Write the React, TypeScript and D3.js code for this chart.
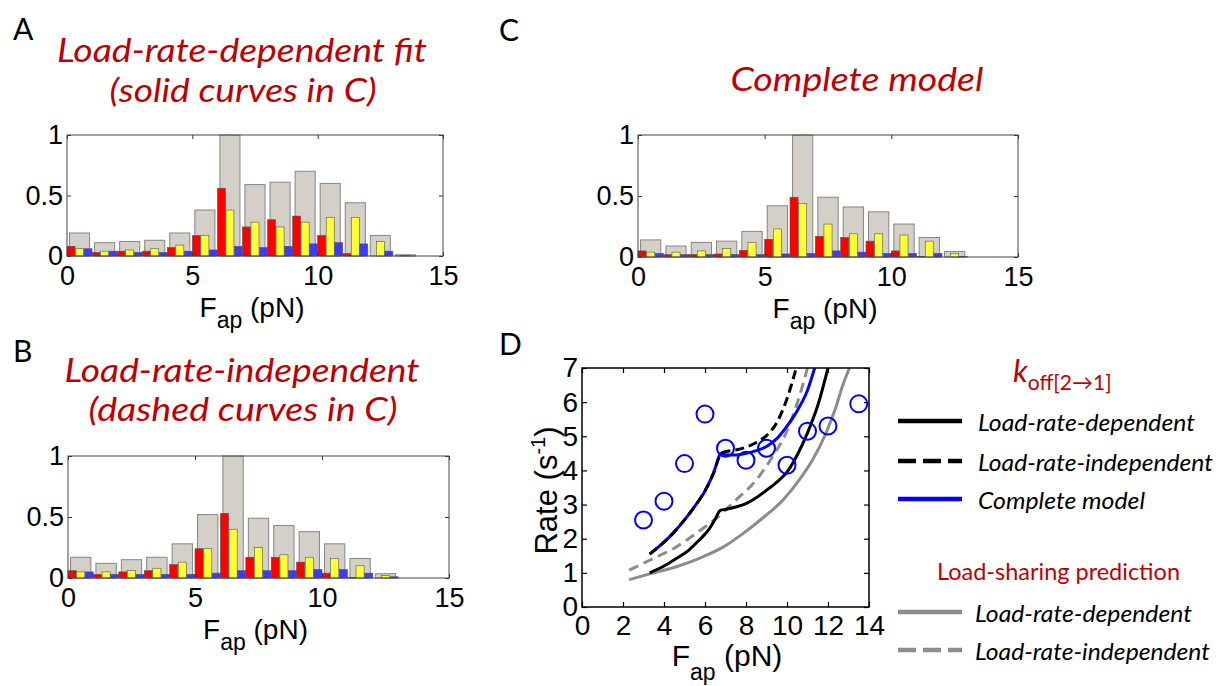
import React, { useRef, useEffect } from 'react';
import * as d3 from 'd3';

// histogram bins (pN), 1 pN wide
const binStarts = [0, 1, 2, 3, 4, 5, 6, 7, 8, 9, 10, 11, 12, 13];
const seriesNames = ['red', 'yellow', 'blue'];
const seriesColors = ['#ff0000', '#ffff33', '#3b3bff'];
const xTicksHist = [0, 5, 10, 15];
const yTicksHist = [0, 0.5, 1];

// A: load-rate-dependent fit
const grayA = [0.19, 0.11, 0.12, 0.13, 0.19, 0.38, 1.0, 0.59, 0.61, 0.70, 0.60, 0.44, 0.17, 0.01];
const redA = [0.08, 0.03, 0.04, 0.04, 0.07, 0.17, 0.56, 0.24, 0.30, 0.33, 0.17, 0.02, 0, 0];
const yellowA = [0.06, 0.04, 0.05, 0.06, 0.09, 0.17, 0.38, 0.28, 0.24, 0.28, 0.32, 0.32, 0.12, 0.005];
const blueA = [0.06, 0.04, 0.03, 0.03, 0.04, 0.05, 0.08, 0.07, 0.08, 0.10, 0.11, 0.10, 0.04, 0];

// B: load-rate-independent fit
const grayB = [0.17, 0.12, 0.15, 0.17, 0.28, 0.52, 1.0, 0.49, 0.43, 0.38, 0.28, 0.16, 0.035, 0];
const redB = [0.06, 0.03, 0.05, 0.06, 0.11, 0.24, 0.53, 0.17, 0.17, 0.13, 0.04, 0.005, 0, 0];
const yellowB = [0.05, 0.05, 0.06, 0.08, 0.13, 0.24, 0.40, 0.25, 0.19, 0.17, 0.16, 0.10, 0.02, 0];
const blueB = [0.05, 0.03, 0.03, 0.03, 0.03, 0.04, 0.06, 0.06, 0.06, 0.07, 0.07, 0.04, 0.01, 0];

// C: complete model
const grayC = [0.14, 0.09, 0.12, 0.13, 0.21, 0.42, 1.0, 0.49, 0.41, 0.37, 0.27, 0.16, 0.045, 0];
const redC = [0.05, 0.02, 0.02, 0.025, 0.055, 0.145, 0.49, 0.17, 0.16, 0.13, 0.05, 0.003, 0, 0];
const yellowC = [0.04, 0.04, 0.05, 0.07, 0.12, 0.23, 0.44, 0.27, 0.19, 0.19, 0.18, 0.13, 0.03, 0];
const blueC = [0.03, 0.02, 0.02, 0.02, 0.02, 0.025, 0.03, 0.05, 0.04, 0.03, 0.03, 0.03, 0.005, 0];

// D: rates
const xTicksD = [0, 2, 4, 6, 8, 10, 12, 14];
const yTicksD = [0, 1, 2, 3, 4, 5, 6, 7];
const forceObs = [3, 4, 5, 6, 7, 8, 9, 10, 11, 12, 13.5];
const rateObs = [2.55, 3.1, 4.2, 5.65, 4.65, 4.3, 4.65, 4.15, 5.15, 5.3, 5.95];

const depFitF = [3.3, 4.0, 4.6, 5.2, 5.7, 6.2, 6.5, 6.75, 7.0, 7.5, 8.0, 8.5, 9.0, 9.5, 10.0, 10.5, 11.0, 11.5, 12.0];
const depFitR = [1.0, 1.2, 1.42, 1.66, 1.95, 2.28, 2.58, 2.83, 2.86, 2.93, 3.03, 3.2, 3.42, 3.66, 3.95, 4.45, 5.1, 5.9, 7.0];

const indepFitF = [3.3, 4.0, 4.5, 5.0, 5.5, 6.0, 6.4, 6.8, 7.0, 7.5, 8.0, 8.5, 9.0, 9.5, 10.0, 10.45];
const indepFitR = [1.55, 1.9, 2.2, 2.55, 2.95, 3.4, 3.9, 4.5, 4.55, 4.6, 4.68, 4.82, 5.02, 5.4, 6.1, 7.0];

const completeF = [3.3, 4.0, 4.5, 5.0, 5.5, 6.0, 6.4, 6.8, 7.0, 7.5, 8.0, 8.5, 9.0, 9.5, 10.0, 10.5, 11.0, 11.35];
const completeR = [1.55, 1.9, 2.2, 2.55, 2.95, 3.4, 3.9, 4.5, 4.46, 4.45, 4.5, 4.58, 4.7, 4.93, 5.3, 5.75, 6.35, 7.0];

const shareDepF = [2.3, 3.3, 4.6, 5.9, 6.9, 7.85, 8.8, 9.8, 10.6, 11.25, 11.9, 12.4, 12.7, 13.05];
const shareDepR = [0.8, 0.97, 1.18, 1.47, 1.76, 2.15, 2.6, 3.13, 3.72, 4.31, 5.09, 5.88, 6.46, 7.0];

const shareIndepF = [2.3, 3.3, 4.6, 5.55, 6.55, 7.5, 8.5, 9.3, 9.95, 10.45, 10.75, 11.0];
const shareIndepR = [1.08, 1.37, 1.76, 2.15, 2.6, 3.13, 3.72, 4.41, 5.09, 5.88, 6.46, 7.0];

const AXIS_FONT = '"Liberation Sans", Arial, sans-serif';
const TITLE_FONT = 'Lato, "Open Sans", sans-serif';
const RED_TEXT = '#c00000';

const xLabel = (svg, cx, baseline, size, subSize, shift) => {
  const t = svg.append('text')
    .attr('x', cx)
    .attr('y', baseline)
    .attr('text-anchor', 'middle')
    .attr('font-family', AXIS_FONT)
    .attr('font-size', size)
    .style('white-space', 'pre');
  t.append('tspan').text('F');
  t.append('tspan').attr('font-size', subSize).attr('dy', shift).text('ap');
  t.append('tspan').attr('dy', -shift).text(' (pN)');
};

const title = (svg, x, y, str, len, opts = {}) => {
  svg.append('text')
    .attr('x', x)
    .attr('y', y)
    .attr('text-anchor', opts.anchor || 'middle')
    .attr('font-family', TITLE_FONT)
    .attr('font-style', opts.italic === false ? 'normal' : 'italic')
    .attr('font-size', opts.size || 32)
    .attr('fill', opts.color || RED_TEXT)
    .attr('textLength', len)
    .attr('lengthAdjust', 'spacingAndGlyphs')
    .text(str);
};

const drawHist = (svg, box, gray, red, yellow, blue) => {
  const x = d3.scaleLinear().domain([0, 15]).range([box.left, box.right]);
  const y = d3.scaleLinear().domain([0, 1]).range([box.bottom, box.top]);
  const g = svg.append('g');

  g.selectAll('.gray')
    .data(gray)
    .enter()
    .append('rect')
    .attr('class', 'gray')
    .attr('x', (d, i) => x(binStarts[i] + 0.1))
    .attr('width', x(0.9) - x(0.1))
    .attr('y', d => y(d))
    .attr('height', d => y(0) - y(d))
    .attr('fill', '#d4d0c8')
    .attr('stroke', '#858585')
    .attr('stroke-width', 1);

  // grouped bars within each bin
  const sub = d3.scaleBand().domain(seriesNames).range([0, 1]).paddingInner(0.06);
  [red, yellow, blue].forEach((vals, s) => {
    g.selectAll(`.s${s}`)
      .data(vals)
      .enter()
      .append('rect')
      .attr('class', `s${s}`)
      .attr('x', (d, i) => x(binStarts[i] + sub(seriesNames[s])))
      .attr('width', x(sub.bandwidth()) - x(0))
      .attr('y', d => y(d))
      .attr('height', d => y(0) - y(d))
      .attr('fill', seriesColors[s])
      .attr('stroke', d => (d > 0 ? '#555' : 'none'))
      .attr('stroke-width', 0.6);
  });

  const fmt = d => (d === 0.5 ? '0.5' : d3.format('d')(d));
  const styleAxis = a => {
    a.select('.domain').remove();
    a.selectAll('line').attr('stroke', '#333');
    a.attr('font-family', AXIS_FONT).attr('font-size', 27);
    a.selectAll('text').attr('fill', '#000');
  };

  g.append('g')
    .attr('transform', `translate(0,${box.bottom})`)
    .call(d3.axisBottom(x).tickValues(xTicksHist).tickFormat(fmt).tickSizeInner(-4).tickSizeOuter(0).tickPadding(10))
    .call(styleAxis);
  g.append('g')
    .attr('transform', `translate(0,${box.top})`)
    .call(d3.axisTop(x).tickValues(xTicksHist).tickFormat(() => '').tickSizeInner(-4).tickSizeOuter(0))
    .call(styleAxis);
  g.append('g')
    .attr('transform', `translate(${box.left},0)`)
    .call(d3.axisLeft(y).tickValues(yTicksHist).tickFormat(fmt).tickSizeInner(-4).tickSizeOuter(0).tickPadding(4))
    .call(styleAxis);
  g.append('g')
    .attr('transform', `translate(${box.right},0)`)
    .call(d3.axisRight(y).tickValues(yTicksHist).tickFormat(() => '').tickSizeInner(-4).tickSizeOuter(0))
    .call(styleAxis);

  g.append('rect')
    .attr('x', box.left)
    .attr('y', box.top)
    .attr('width', box.right - box.left)
    .attr('height', box.bottom - box.top)
    .attr('fill', 'none')
    .attr('stroke', '#444')
    .attr('stroke-width', 1);

  xLabel(svg, (box.left + box.right) / 2 - 3, box.bottom + 61, 28, 23, 11);
};

const App = () => {
  const svgRef = useRef(null);

  useEffect(() => {
    document.body.style.margin = '0';
    const svg = d3.select(svgRef.current);
    svg.selectAll('*').remove();

    // panel letters
    [['A', 13, 40], ['B', 13, 362], ['C', 499, 41], ['D', 499, 355]].forEach(([s, x, y]) => {
      svg.append('text')
        .attr('x', x).attr('y', y)
        .attr('font-family', TITLE_FONT)
        .attr('font-size', 30)
        .attr('fill', '#000')
        .text(s);
    });

    // titles
    title(svg, 242, 62, 'Load-rate-dependent fit', 370);
    title(svg, 243, 102, '(solid curves in C)', 267);
    title(svg, 242, 382, 'Load-rate-independent', 355);
    title(svg, 243, 421, '(dashed curves in C)', 309);
    title(svg, 857, 91, 'Complete model', 253);

    drawHist(svg, { left: 67, right: 443, top: 135, bottom: 256 }, grayA, redA, yellowA, blueA);
    drawHist(svg, { left: 68, right: 449, top: 456, bottom: 578 }, grayB, redB, yellowB, blueB);
    drawHist(svg, { left: 638, right: 1018, top: 135, bottom: 257 }, grayC, redC, yellowC, blueC);

    // ---- panel D ----
    const box = { left: 582, right: 869, top: 368, bottom: 607 };
    const x = d3.scaleLinear().domain([0, 14]).range([box.left, box.right]);
    const y = d3.scaleLinear().domain([0, 7]).range([box.bottom, box.top]);
    const gD = svg.append('g');

    const styleAxis = a => {
      a.select('.domain').remove();
      a.selectAll('line').attr('stroke', '#000').attr('stroke-width', 1.2);
      a.attr('font-family', AXIS_FONT).attr('font-size', 28);
      a.selectAll('text').attr('fill', '#000');
    };
    gD.append('g')
      .attr('transform', `translate(0,${box.bottom})`)
      .call(d3.axisBottom(x).tickValues(xTicksD).tickFormat(d3.format('d')).tickSizeInner(-5).tickSizeOuter(0).tickPadding(8))
      .call(styleAxis);
    gD.append('g')
      .attr('transform', `translate(0,${box.top})`)
      .call(d3.axisTop(x).tickValues(xTicksD).tickFormat(() => '').tickSizeInner(-5).tickSizeOuter(0))
      .call(styleAxis);
    gD.append('g')
      .attr('transform', `translate(${box.left},0)`)
      .call(d3.axisLeft(y).tickValues(yTicksD).tickFormat(d3.format('d')).tickSizeInner(-5).tickSizeOuter(0).tickPadding(4))
      .call(styleAxis);
    gD.append('g')
      .attr('transform', `translate(${box.right},0)`)
      .call(d3.axisRight(y).tickValues(yTicksD).tickFormat(() => '').tickSizeInner(-5).tickSizeOuter(0))
      .call(styleAxis);

    svg.append('clipPath').attr('id', 'clipD')
      .append('rect')
      .attr('x', box.left).attr('y', box.top)
      .attr('width', box.right - box.left).attr('height', box.bottom - box.top);

    const line = d3.line().x(d => x(d[0])).y(d => y(d[1])).curve(d3.curveMonotoneX);
    const curves = [
      { f: shareDepF, r: shareDepR, color: '#8c8c8c', dash: null },
      { f: shareIndepF, r: shareIndepR, color: '#8c8c8c', dash: '10,6' },
      { f: depFitF, r: depFitR, color: '#000', dash: null },
      { f: completeF, r: completeR, color: '#0000ff', dash: null },
      { f: indepFitF, r: indepFitR, color: '#000', dash: '9,5' },
    ];
    const curveG = gD.append('g').attr('clip-path', 'url(#clipD)');
    curves.forEach(c => {
      curveG.append('path')
        .attr('d', line(c.f.map((v, i) => [v, c.r[i]])))
        .attr('fill', 'none')
        .attr('stroke', c.color)
        .attr('stroke-width', 3)
        .attr('stroke-dasharray', c.dash);
    });

    gD.selectAll('circle')
      .data(forceObs)
      .enter()
      .append('circle')
      .attr('cx', d => x(d))
      .attr('cy', (d, i) => y(rateObs[i]))
      .attr('r', 8.5)
      .attr('fill', 'none')
      .attr('stroke', '#0000ff')
      .attr('stroke-width', 2);

    gD.append('rect')
      .attr('x', box.left).attr('y', box.top)
      .attr('width', box.right - box.left).attr('height', box.bottom - box.top)
      .attr('fill', 'none').attr('stroke', '#000').attr('stroke-width', 1.5);

    xLabel(svg, 727, 666, 30, 23, 14);

    const yl = svg.append('text')
      .attr('transform', `translate(557,${(box.top + box.bottom) / 2 + 3}) rotate(-90)`)
      .attr('text-anchor', 'middle')
      .attr('font-family', AXIS_FONT)
      .attr('font-size', 31)
      .style('white-space', 'pre');
    yl.append('tspan').text('Rate (s');
    yl.append('tspan').attr('font-size', 20).attr('dy', -12).text('-1');
    yl.append('tspan').attr('dy', 12).text(')');

    // ---- legend ----
    const k = svg.append('text')
      .attr('x', 1013).attr('y', 382)
      .attr('font-family', TITLE_FONT)
      .attr('fill', RED_TEXT);
    k.append('tspan').attr('font-size', 31).attr('font-style', 'italic').text('k');
    k.append('tspan').attr('font-size', 21).attr('dy', 8).text('off[2\u21921]');

    const legendItems = [
      { label: 'Load-rate-dependent', color: '#000', dash: null, y: 421, x: 978, len: 217 },
      { label: 'Load-rate-independent', color: '#000', dash: '18,7', y: 461, x: 978, len: 235 },
      { label: 'Complete model', color: '#0000ff', dash: null, y: 499, x: 978, len: 167 },
      { label: 'Load-rate-dependent', color: '#8c8c8c', dash: null, y: 612, x: 975, len: 217 },
      { label: 'Load-rate-independent', color: '#8c8c8c', dash: '18,7', y: 650, x: 975, len: 235 },
    ];
    legendItems.forEach(it => {
      svg.append('line')
        .attr('x1', 898).attr('x2', 962)
        .attr('y1', it.y).attr('y2', it.y)
        .attr('stroke', it.color)
        .attr('stroke-width', 4.5)
        .attr('stroke-dasharray', it.dash);
      title(svg, it.x, it.y + 10, it.label, it.len, { anchor: 'start', size: 24, color: '#000' });
    });
    title(svg, 937, 580, 'Load-sharing prediction', 243, { anchor: 'start', size: 24, italic: false });
  }, []);

  return (
    <svg ref={svgRef} width={1224} height={686} style={{ display: 'block', background: '#fff' }}></svg>
  );
};

export default App;
